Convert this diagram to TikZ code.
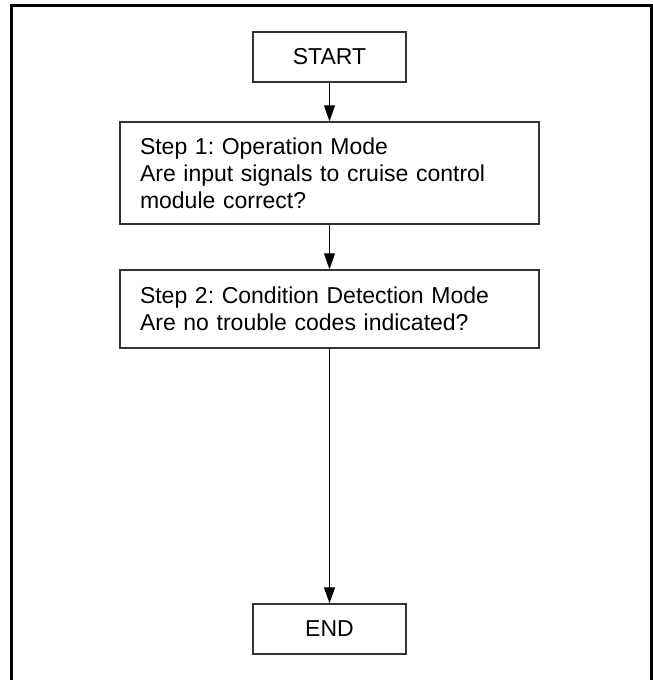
\documentclass[tikz,border=0pt]{standalone}
\usepackage{fontspec}
\setmainfont{Liberation Sans}
\usetikzlibrary{positioning}
\usetikzlibrary{shapes.geometric, arrows.meta}

\tikzset{
  endbox/.style={rectangle, draw=black!80, line width=1.5pt, minimum width=153pt, minimum height=50pt, font=\fontsize{23}{27}\selectfont},
  stepbox/.style={rectangle, draw=black!80, line width=1.5pt, text width=379pt, inner xsep=20pt, align=left, font=\fontsize{23}{27}\selectfont},
  flow/.style={line width=1.3pt, -{Triangle[length=16pt,width=11pt]}}
}

\begin{document}
\frenchspacing
\begin{tikzpicture}[x=1pt,y=-1pt]
\useasboundingbox (0,0) rectangle (653,680);

% frame, open at the bottom
\draw[line width=3pt] (11,690) -- (11,5.5) -- (651,5.5) -- (651,690);

\node[endbox] (start) at (329.5,57) {START};
\node[stepbox, minimum height=102pt] (step1) at (329.5,173) {Step 1: Operation Mode\\Are input signals to cruise control\\module correct?};
\node[stepbox, minimum height=78pt] (step2) at (329.5,309) {Step 2: Condition Detection Mode\\Are no trouble codes indicated?};
\node[endbox] (end) at (329.5,629) {END};

\draw[flow] (start) -- (step1);
\draw[flow] (step1) -- (step2);
\draw[flow] (step2) -- (end);
\end{tikzpicture}
\end{document}
